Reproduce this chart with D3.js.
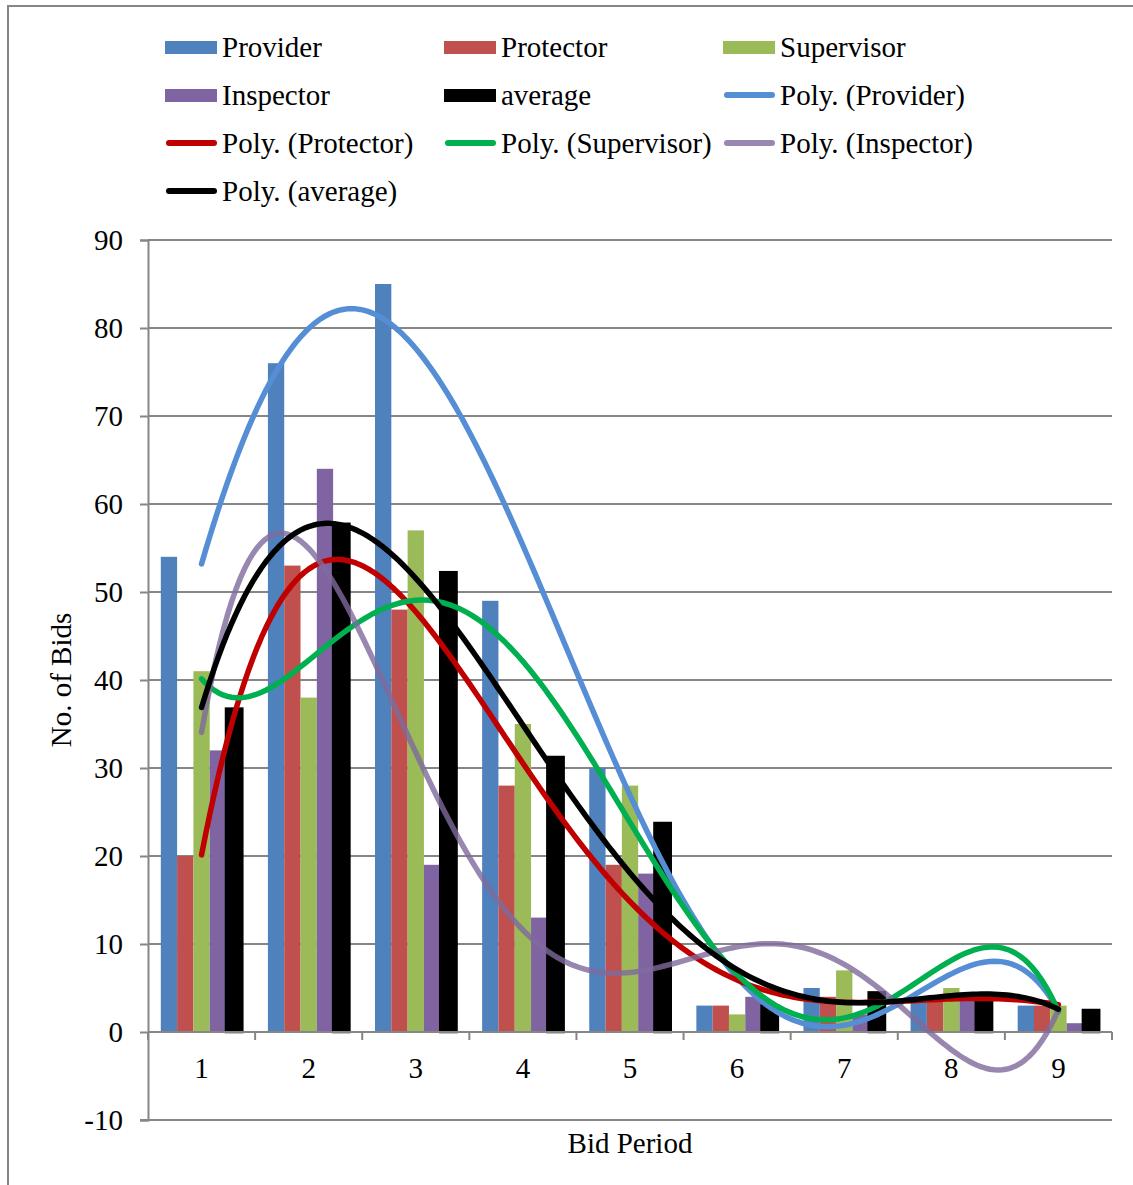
<!DOCTYPE html>
<html><head><meta charset="utf-8">
<script src="https://cdn.jsdelivr.net/npm/d3@7"></script>
<style>html,body{margin:0;padding:0;background:#fff;}svg{display:block;font-family:"Liberation Serif","Times New Roman",serif;}</style>
</head><body><svg id="c" width="1133" height="1185"></svg>
<script>
const categories = ["1","2","3","4","5","6","7","8","9"];
const provider   = [54, 76, 85, 49, 30, 3, 5, 4, 3];
const protector  = [20, 53, 48, 28, 19, 3, 4, 4, 3];
const supervisor = [41, 38, 57, 35, 28, 2, 7, 5, 3];
const inspector  = [32, 64, 19, 13, 18, 4, 2, 4, 1];
const average    = [36.75, 57.75, 52.25, 31.25, 23.75, 3, 4.5, 4.25, 2.5];
const seriesNames = ["Provider","Protector","Supervisor","Inspector","average"];
const yTicks = [-10,0,10,20,30,40,50,60,70,80,90];
const polyOrder = 5;

const seriesData = [provider, protector, supervisor, inspector, average];
const barColors = ["#4F81BD","#C0504D","#9BBB59","#8064A2","#000000"];
const lineColors = ["#558ED5","#C00000","#00B050","#7E6A9C","#000000"];
const lineOpac = [1,1,1,0.8,1];

const svg = d3.select("#c");
svg.append("rect").attr("x",0).attr("y",0).attr("width",1133).attr("height",1185).attr("fill","#fff");
svg.append("rect").attr("x",8).attr("y",6).attr("width",1300).attr("height",1300)
  .attr("fill","none").attr("stroke","#868686").attr("stroke-width",2);

const L = 148, R = 1112, T = 240, B = 1120;
const y = d3.scaleLinear().domain([-10,90]).range([B,T]);
const x0 = d3.scaleBand().domain(categories).range([L,R]).padding(0);
const x1 = d3.scaleBand().domain(seriesNames).range([0,x0.bandwidth()]).paddingInner(0).paddingOuter(0.785);
const xc = d3.scaleLinear().domain([1,9]).range([x0("1")+x0.bandwidth()/2, x0("9")+x0.bandwidth()/2]);

const grid = "#868686";
svg.append("g").selectAll("line").data(yTicks.filter(d=>d!==0)).join("line")
  .attr("x1",d=>d===-10?140:L).attr("x2",R).attr("y1",d=>y(d)).attr("y2",d=>y(d))
  .attr("stroke",grid).attr("stroke-width",2);
const ya = svg.append("g").attr("transform",`translate(${L},0)`)
  .call(d3.axisLeft(y).tickValues(yTicks).tickSize(8).tickPadding(17).tickFormat(d=>String(d)));
ya.select(".domain").attr("stroke",grid).attr("stroke-width",2);
ya.selectAll(".tick line").attr("stroke",grid).attr("stroke-width",2);
ya.selectAll(".tick text").attr("font-size",29).attr("font-family","Liberation Serif").attr("fill","#000");

seriesData.forEach((arr,si)=>{
  svg.append("g").selectAll("rect").data(arr).join("rect")
    .attr("x",(d,i)=>x0(categories[i])+x1(seriesNames[si]))
    .attr("width",x1.bandwidth())
    .attr("y",d=>y(Math.max(d,0)))
    .attr("height",d=>Math.abs(y(d)-y(0)))
    .attr("fill",barColors[si])
    .attr("stroke",si===4?"#000":"none").attr("stroke-width",si===4?2.5:0);
});

const xa = svg.append("g").attr("transform",`translate(0,${y(0)})`);
xa.append("line").attr("x1",L).attr("x2",R).attr("y1",0).attr("y2",0).attr("stroke",grid).attr("stroke-width",2);
const bounds = categories.map(c=>x0(c)).concat([R]);
xa.selectAll("line.t").data(bounds).join("line").attr("class","t")
  .attr("x1",d=>d).attr("x2",d=>d).attr("y1",0).attr("y2",8).attr("stroke",grid).attr("stroke-width",2);
xa.selectAll("text").data(categories).join("text")
  .attr("x",d=>x0(d)+x0.bandwidth()/2).attr("y",46).attr("text-anchor","middle")
  .attr("font-size",29).attr("fill","#000").text(d=>d);

function polyfit(xs, ys, n){
  const m = n+1, A = [];
  const xsn = xs.map(v=>(v-5)/4);
  for(let r=0;r<m;r++){ A.push(new Array(m+1).fill(0)); }
  for(let k=0;k<xs.length;k++){
    for(let r=0;r<m;r++){
      for(let c=0;c<m;c++) A[r][c]+=Math.pow(xsn[k],r+c);
      A[r][m]+=ys[k]*Math.pow(xsn[k],r);
    }
  }
  for(let i=0;i<m;i++){
    let p=i; for(let r=i+1;r<m;r++) if(Math.abs(A[r][i])>Math.abs(A[p][i])) p=r;
    [A[i],A[p]]=[A[p],A[i]];
    for(let r=0;r<m;r++){ if(r===i) continue; const f=A[r][i]/A[i][i]; for(let c=i;c<=m;c++) A[r][c]-=f*A[i][c]; }
  }
  const coef = A.map((row,i)=>row[m]/row[i]);
  return v=>{ const t=(v-5)/4; let s=0; for(let i=m-1;i>=0;i--) s=s*t+coef[i]; return s; };
}
const xsNum = categories.map(Number);
const samples = d3.range(0,201).map(i=>1+8*i/200);
const line = d3.line().x(d=>xc(d[0])).y(d=>y(d[1]));
seriesData.forEach((arr,si)=>{
  const f = polyfit(xsNum, arr, polyOrder);
  svg.append("path").datum(samples.map(v=>[v,f(v)])).attr("d",line)
    .attr("fill","none").attr("stroke",lineColors[si]).attr("stroke-width",5.5)
    .attr("stroke-linecap","round").attr("stroke-linejoin","round").attr("stroke-opacity",lineOpac[si]);
});

svg.append("text").attr("transform","translate(71,680) rotate(-90)").attr("text-anchor","middle")
  .attr("font-size",29).attr("fill","#000").text("No. of Bids");
svg.append("text").attr("x",630).attr("y",1153).attr("text-anchor","middle")
  .attr("font-size",29).attr("fill","#000").text("Bid Period");

const legendItems = seriesNames.map((n,i)=>({label:n,type:"bar",color:barColors[i],op:1}))
  .concat(seriesNames.map((n,i)=>({label:`Poly. (${n})`,type:"line",color:lineColors[i],op:lineOpac[i]})));
const colX = [165,444,723], rowY = [47,95,143,191];
const lg = svg.append("g");
legendItems.forEach((it,i)=>{
  const cx = colX[i%3], cy = rowY[Math.floor(i/3)];
  if(it.type==="bar"){
    lg.append("rect").attr("x",cx).attr("y",cy-6).attr("width",52).attr("height",13).attr("fill",it.color);
  } else {
    lg.append("line").attr("x1",cx+4).attr("x2",cx+49).attr("y1",cy).attr("y2",cy)
      .attr("stroke",it.color).attr("stroke-width",6).attr("stroke-linecap","round").attr("stroke-opacity",it.op);
  }
  lg.append("text").attr("x",cx+57).attr("y",cy+10).attr("font-size",29).attr("fill","#000").text(it.label);
});
</script></body></html>
